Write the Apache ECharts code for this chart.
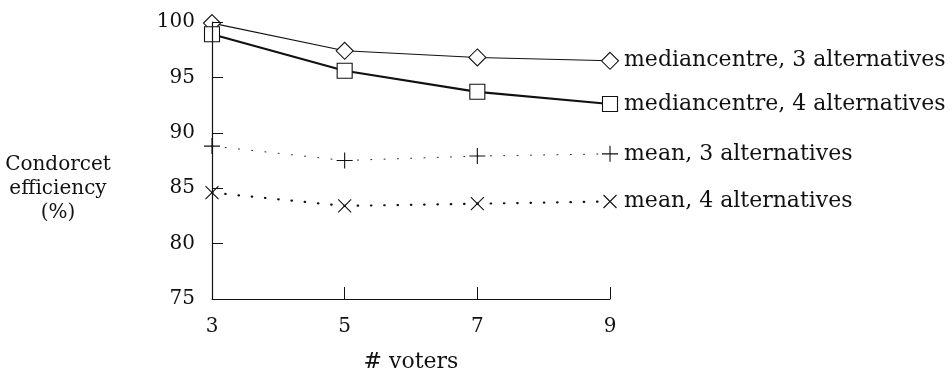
<!DOCTYPE html>
<html><head><meta charset="utf-8">
<script src="https://cdn.jsdelivr.net/npm/echarts@6/dist/echarts.min.js"></script>
<style>html,body{margin:0;padding:0;background:#fff}#c{width:952px;height:375px}</style>
</head><body><div id="c"></div>
<script>
const voters = ['3', '5', '7', '9'];
const yTicks = [75, 80, 85, 90, 95, 100];
const median3 = [99.9, 97.4, 96.8, 96.5];
const median4 = [98.9, 95.6, 93.7, 92.6];
const mean3 = [88.8, 87.5, 87.9, 88.1];
const mean4 = [84.6, 83.4, 83.6, 83.8];
const seriesNames = ['mediancentre, 3 alternatives', 'mediancentre, 4 alternatives', 'mean, 3 alternatives', 'mean, 4 alternatives'];

const FONT = 'DejaVu Serif';
const INK = '#111';
const chart = echarts.init(document.getElementById('c'), null, {renderer: 'canvas'});
function mk(name, data, symbol, size, lw, ltype) {
  return {
    type: 'line', name: name, data: data, symbol: symbol, symbolSize: size,
    clip: false, animation: false, z: 2,
    lineStyle: {color: INK, width: lw, type: ltype, cap: 'round'},
    itemStyle: {color: '#fff', borderColor: INK, borderWidth: 1.1},
    endLabel: {show: true, formatter: name, color: INK, fontFamily: FONT, fontSize: 22, distance: 14}
  };
}
const plusPath = 'path://M0,-10L0,10M-10,0L10,0';
const crossPath = 'path://M-10,-10L10,10M-10,10L10,-10';
chart.setOption({
  animation: false,
  grid: {left: 212, right: 342, top: 22, bottom: 76, outerBoundsMode: 'none', containLabel: false},
  xAxis: {
    type: 'category', data: voters, boundaryGap: false,
    name: '# voters', nameLocation: 'middle', nameGap: 52,
    nameTextStyle: {fontFamily: FONT, fontSize: 22, color: INK},
    axisLine: {show: true, lineStyle: {color: INK, width: 1.2}},
    axisTick: {show: true, inside: true, length: 12, alignWithLabel: true, lineStyle: {color: INK, width: 1}},
    axisLabel: {fontFamily: FONT, fontSize: 20, color: INK, margin: 18},
    splitLine: {show: false}
  },
  yAxis: {
    type: 'value', min: yTicks[0], max: yTicks[yTicks.length - 1], interval: 5, z: 3,
    axisLine: {show: true, lineStyle: {color: INK, width: 1.2}},
    axisTick: {show: true, inside: true, length: 11, lineStyle: {color: INK, width: 1}},
    axisLabel: {fontFamily: FONT, fontSize: 20, color: INK, margin: 17},
    splitLine: {show: false}
  },
  graphic: [{type: 'text', x: 58, y: 189, style: {text: 'Condorcet\nefficiency\n(%)', fontFamily: FONT, fontSize: 20, fill: INK, align: 'center', verticalAlign: 'middle', lineHeight: 24}}],
  series: [
    mk(seriesNames[0], median3, 'diamond', [17, 17], 1.1, 'solid'),
    mk(seriesNames[1], median4, 'rect', [15, 15], 2.2, 'solid'),
    mk(seriesNames[2], mean3, plusPath, [16, 16], 0.9, [1, 12.3]),
    mk(seriesNames[3], mean4, crossPath, [13, 13], 2.2, [0.5, 12.8])
  ]
});
</script></body></html>
